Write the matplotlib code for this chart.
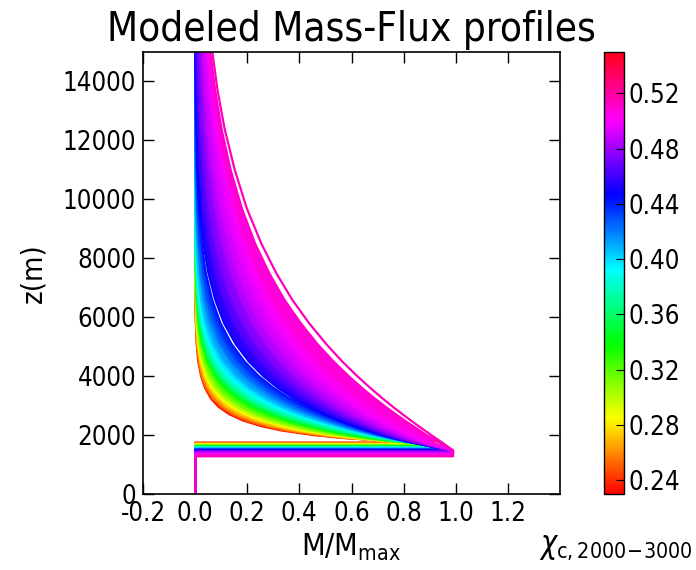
import numpy as np
import matplotlib
matplotlib.use('Agg')
import matplotlib.pyplot as plt
from matplotlib.colors import Normalize
from matplotlib.cm import ScalarMappable

plt.rcParams['font.family'] = ['DejaVu Sans']
plt.rcParams['font.stretch'] = 'condensed'
plt.rcParams['mathtext.fontset'] = 'custom'
plt.rcParams['mathtext.rm'] = 'DejaVu Sans:stretch=condensed'
plt.rcParams['mathtext.it'] = 'DejaVu Sans:italic:stretch=condensed'

# chi_c,2000-3000 of each profile (colour)
chi = [0.235, 0.248, 0.26, 0.272, 0.285, 0.30, 0.315, 0.33, 0.345, 0.36, 0.375, 0.39, 0.405,
       0.42, 0.432, 0.442, 0.448, 0.46, 0.47, 0.48, 0.488, 0.495, 0.50, 0.505, 0.512, 0.515]
# cloud-base level (m) of each profile, start of the decaying part (m), peak M/Mmax
z_base = [1745, 1729, 1714, 1700, 1684, 1666, 1648, 1630, 1615, 1600, 1585, 1570, 1549,
          1528, 1511, 1497, 1486, 1465, 1448, 1430, 1398, 1370, 1350, 1327, 1294, 1280]
z_top_of_base = [1745, 1729, 1714, 1700, 1684, 1666, 1648, 1630, 1615, 1600, 1585, 1570, 1549,
                 1528, 1511, 1497, 1486, 1480, 1480, 1480, 1480, 1480, 1480, 1480, 1480, 1480]
M_peak = [0.940, 0.942, 0.944, 0.946, 0.948, 0.950, 0.953, 0.955, 0.957, 0.959, 0.961, 0.963, 0.965,
          0.967, 0.969, 0.971, 0.972, 0.975, 0.978, 0.981, 0.983, 0.985, 0.986, 0.987, 0.989, 0.990]
# heights (m) at which the profiles are read
z_levels = [1800, 1900, 2000, 2150, 2300, 2500, 2700, 2950, 3250, 3600, 4000, 4500, 5100, 5800,
            6600, 7500, 8500, 9700, 11000, 12400, 13700, 15000]
# M/Mmax x 1000 of each profile at z_levels
M_permille = [
    [747, 570, 454, 336, 255, 182, 133, 91, 60, 38, 23, 12, 6, 3, 1, 1, 0, 0, 0, 0, 0, 0],
    [734, 576, 467, 351, 270, 195, 144, 100, 66, 41, 25, 14, 7, 3, 1, 1, 0, 0, 0, 0, 0, 0],
    [729, 586, 482, 369, 288, 211, 157, 110, 73, 47, 28, 16, 8, 4, 2, 1, 0, 0, 0, 0, 0, 0],
    [730, 600, 502, 391, 310, 231, 174, 124, 84, 54, 34, 19, 10, 4, 2, 1, 0, 0, 0, 0, 0, 0],
    [732, 614, 522, 415, 334, 253, 194, 141, 97, 64, 40, 23, 12, 6, 3, 1, 0, 0, 0, 0, 0, 0],
    [734, 626, 540, 437, 357, 275, 214, 158, 111, 74, 47, 28, 15, 7, 3, 1, 1, 0, 0, 0, 0, 0],
    [741, 643, 562, 464, 385, 303, 239, 180, 129, 88, 58, 35, 19, 9, 4, 2, 1, 0, 0, 0, 0, 0],
    [751, 664, 589, 495, 419, 336, 272, 209, 154, 108, 73, 45, 25, 13, 6, 3, 1, 0, 0, 0, 0, 0],
    [759, 677, 606, 516, 440, 357, 291, 226, 168, 120, 81, 51, 29, 15, 7, 3, 1, 0, 0, 0, 0, 0],
    [769, 693, 626, 539, 464, 382, 315, 248, 186, 134, 92, 58, 34, 18, 9, 4, 2, 1, 0, 0, 0, 0],
    [781, 711, 648, 565, 492, 410, 342, 273, 209, 153, 107, 69, 41, 22, 11, 5, 2, 1, 0, 0, 0, 0],
    [795, 731, 673, 594, 524, 444, 376, 305, 237, 177, 127, 84, 51, 28, 15, 7, 3, 1, 0, 0, 0, 0],
    [795, 736, 683, 610, 545, 469, 404, 335, 269, 207, 154, 107, 69, 41, 23, 12, 6, 2, 1, 0, 0, 0],
    [797, 744, 695, 628, 568, 497, 435, 369, 303, 242, 186, 135, 92, 59, 35, 20, 11, 5, 2, 1, 0, 0],
    [801, 752, 707, 645, 588, 522, 463, 399, 334, 273, 216, 162, 115, 78, 49, 30, 17, 9, 4, 2, 1, 0],
    [805, 760, 717, 659, 606, 543, 487, 425, 362, 301, 244, 189, 139, 97, 65, 41, 25, 14, 7, 4, 2, 1],
    [804, 761, 720, 664, 614, 553, 499, 440, 378, 318, 262, 206, 155, 111, 77, 51, 32, 19, 11, 6, 3, 2],
    [812, 771, 734, 683, 636, 579, 529, 473, 415, 357, 301, 245, 192, 145, 106, 75, 51, 32, 20, 12, 8, 5],
    [821, 783, 749, 700, 657, 604, 556, 504, 448, 392, 338, 281, 227, 178, 135, 100, 72, 49, 33, 21, 14, 10],
    [831, 796, 764, 719, 678, 629, 585, 535, 482, 429, 376, 321, 266, 216, 170, 132, 99, 72, 51, 35, 25, 18],
    [846, 814, 784, 743, 705, 658, 616, 569, 518, 466, 414, 358, 303, 250, 202, 160, 125, 93, 68, 49, 36, 27],
    [860, 831, 803, 764, 729, 686, 646, 601, 552, 502, 451, 396, 340, 286, 236, 191, 152, 116, 88, 65, 49, 38],
    [870, 842, 816, 780, 747, 706, 668, 625, 578, 529, 479, 425, 369, 315, 264, 217, 176, 137, 106, 80, 62, 49],
    [896, 872, 849, 816, 785, 746, 710, 668, 621, 572, 520, 464, 404, 346, 290, 238, 192, 149, 113, 85, 65, 50],
    [927, 909, 888, 863, 837, 803, 771, 732, 688, 640, 589, 531, 468, 405, 342, 284, 230, 179, 136, 101, 77, 58],
    [939, 922, 906, 882, 858, 827, 797, 760, 718, 672, 622, 564, 502, 437, 372, 311, 254, 198, 152, 113, 86, 66],
]
# neighbouring profiles with an empty (white) gap between them
gap_pairs = [(0.442, 0.448), (0.512, 0.515)]

x_ticks = [-0.2, 0.0, 0.2, 0.4, 0.6, 0.8, 1.0, 1.2]
x_ticklabels = ['-0.2', '0.0', '0.2', '0.4', '0.6', '0.8', '1.0', '1.2']
y_ticks = [0, 2000, 4000, 6000, 8000, 10000, 12000, 14000]
cbar_ticks = [0.24, 0.28, 0.32, 0.36, 0.40, 0.44, 0.48, 0.52]

zg = np.array(z_levels, float)
M = [np.array(r, float) / 1000.0 for r in M_permille]

fig = plt.figure(figsize=(6.96, 5.70), dpi=100)
ax = fig.add_axes([143/696, 76/570, 417/696, 442/570])
cax = fig.add_axes([604/696, 76/570, 20/696, 442/570])
cmap = plt.get_cmap('hsv')
norm = Normalize(0.23, 0.55)

for i in range(len(chi) - 1):
    if (chi[i], chi[i+1]) in gap_pairs:
        continue
    ax.fill_betweenx(zg, M[i], M[i+1], color=cmap(norm(0.5*(chi[i] + chi[i+1]))), lw=0)
for i in range(len(chi)):
    xs = [0, 0, M_peak[i], M_peak[i]] + list(M[i])
    zs = [0, z_base[i], z_base[i], z_top_of_base[i]] + list(zg)
    ax.plot(xs, zs, color=cmap(norm(chi[i])), lw=1.6, solid_joinstyle='round')

ax.set_xlim(-0.2, 1.4)
ax.set_ylim(0, 15000)
ax.set_xticks(x_ticks)
ax.set_xticklabels(x_ticklabels)
ax.set_yticks(y_ticks)
ax.tick_params(direction='in', top=True, right=True, length=8, width=1, labelsize=18.5, pad=5)
for s in ax.spines.values():
    s.set_linewidth(1.2)
ax.set_title('Modeled Mass-Flux profiles', fontsize=29, pad=8)
ax.set_ylabel('z(m)', fontsize=21)
ax.yaxis.set_label_coords(-0.23, 0.5)
ax.set_xlabel(r'M/M$_{\mathrm{max}}$', fontsize=22)
ax.xaxis.set_label_coords(0.5, -0.085)

cb = fig.colorbar(ScalarMappable(norm=norm, cmap=cmap), cax=cax, ticks=cbar_ticks, format='%.2f')
cb.ax.tick_params(direction='in', length=6, labelsize=18.5)
cb.outline.set_linewidth(1)
fig.text(0.995, 0.03, r'$\chi_{\mathrm{c,2000\!-\!3000}}$', fontsize=22, ha='right')

fig.savefig('out.png', dpi=100)
